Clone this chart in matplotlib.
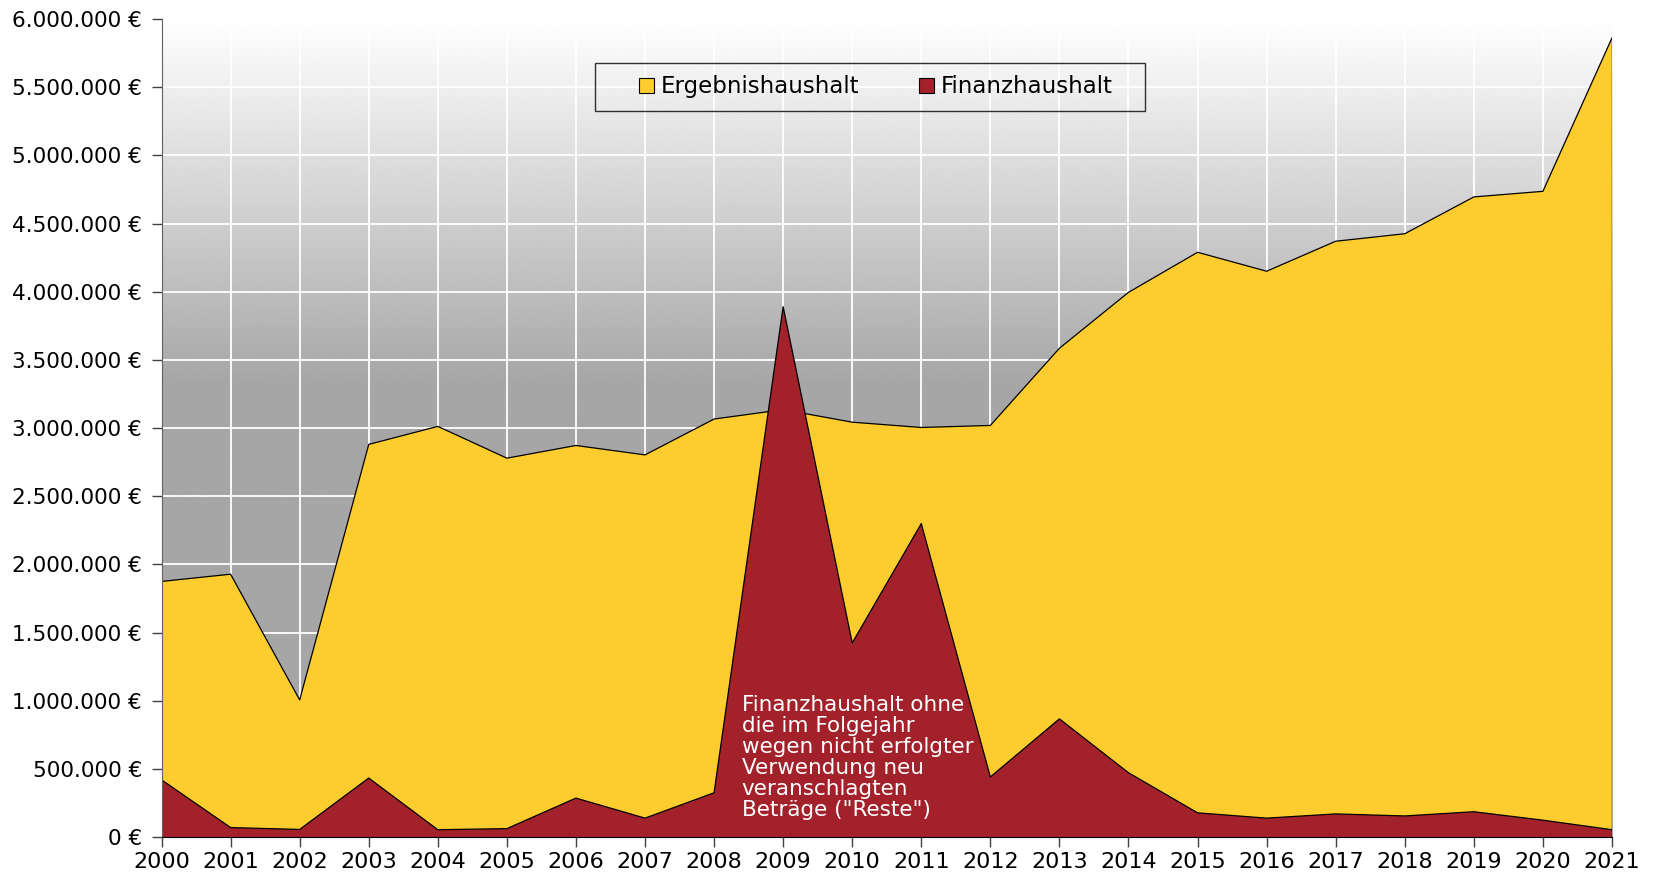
import numpy as np
import matplotlib.pyplot as plt
from matplotlib.patches import Rectangle
from matplotlib.ticker import FuncFormatter, MultipleLocator

# Jahre
jahre = list(range(2000, 2022))

# Ergebnishaushalt (Euro)
ergebnis = [1875000, 1928000, 1006000, 2880000, 3012000, 2779000, 2872000,
            2803000, 3066000, 3135000, 3043000, 3004000, 3019000, 3585000,
            3995000, 4289000, 4150000, 4370000, 4425000, 4695000, 4736000,
            5861000]

# Finanzhaushalt (Euro)
finanz = [420000, 70000, 56000, 433000, 54000, 62000, 286000, 139000,
          325000, 3890000, 1424000, 2299000, 441000, 867000, 472000, 178000,
          139000, 170000, 155000, 186000, 124000, 54000]

gelb = '#FDCD2F'
rot = '#A3212B'

plt.rcParams['font.family'] = ['DejaVu Sans']

fig = plt.figure(figsize=(16.55, 8.83), dpi=100)
ax = fig.add_axes([0.0976, 0.052, 0.8764, 0.9265])

# Hintergrund mit Verlauf (weiss oben, grau unten)
ys = np.linspace(0, 6000000, 400)
grau = np.clip(0.65 + (ys - 3300000) / 2700000 * (1 - 0.65), 0.65, 1.0)
bild = np.repeat(grau[:, None], 2, axis=1)
ax.imshow(bild, cmap='gray', vmin=0, vmax=1, origin='lower', aspect='auto',
          extent=(2000, 2021, 0, 6000000), zorder=0, interpolation='bilinear')

ax.set_axisbelow(True)
ax.grid(True, color='white', linewidth=1.3)

ax.fill_between(jahre, ergebnis, color=gelb, edgecolor='none',
                zorder=2, label='Ergebnishaushalt')
ax.plot(jahre, ergebnis, color='black', linewidth=0.9, zorder=2.1)
ax.fill_between(jahre, finanz, color=rot, edgecolor='none',
                zorder=3, label='Finanzhaushalt')
ax.plot(jahre, finanz, color='black', linewidth=0.9, zorder=3.1)
ax.plot([2021, 2021], [0, ergebnis[-1]], color='black', linewidth=1.0, zorder=3.2)

ax.set_xlim(2000, 2021)
ax.set_ylim(0, 6000000)
ax.set_xticks(jahre)
ax.yaxis.set_major_locator(MultipleLocator(500000))
ax.yaxis.set_major_formatter(FuncFormatter(
    lambda v, p: '{:,.0f} €'.format(v).replace(',', '.')))
ax.tick_params(axis='both', length=7, width=1, color='#404040')
ax.tick_params(axis='x', labelsize=16, pad=4)
ax.tick_params(axis='y', labelsize=15.5, pad=7)

for s in ['top', 'right']:
    ax.spines[s].set_visible(False)
ax.spines['left'].set_color('#606060')
ax.spines['bottom'].set_color('black')
ax.spines['left'].set_zorder(4)
ax.spines['bottom'].set_zorder(4)

# Legende mit eigenem Rahmen
fig.patches.append(Rectangle((595 / 1655, 1 - 111 / 883), 550 / 1655, 48 / 883,
                             transform=fig.transFigure, facecolor='none',
                             edgecolor='#303030', linewidth=1.0, zorder=5))
leg = ax.legend(loc='center', bbox_to_anchor=(0.5293, 0.9015),
                bbox_transform=fig.transFigure, ncol=2, fontsize=16.5,
                frameon=False, handlelength=0.65, handleheight=0.65,
                handletextpad=0.3, columnspacing=2.6, borderpad=0.2)
for h in leg.legend_handles:
    h.set_edgecolor('black')
    h.set_linewidth(0.8)

ax.text(2008.4, 1040000,
        'Finanzhaushalt ohne\ndie im Folgejahr\nwegen nicht erfolgter\n'
        'Verwendung neu\nveranschlagten\nBeträge ("Reste")',
        color='white', fontsize=15.5, va='top', ha='left', linespacing=1.06,
        zorder=5)

fig.savefig('out.png', dpi=100)
